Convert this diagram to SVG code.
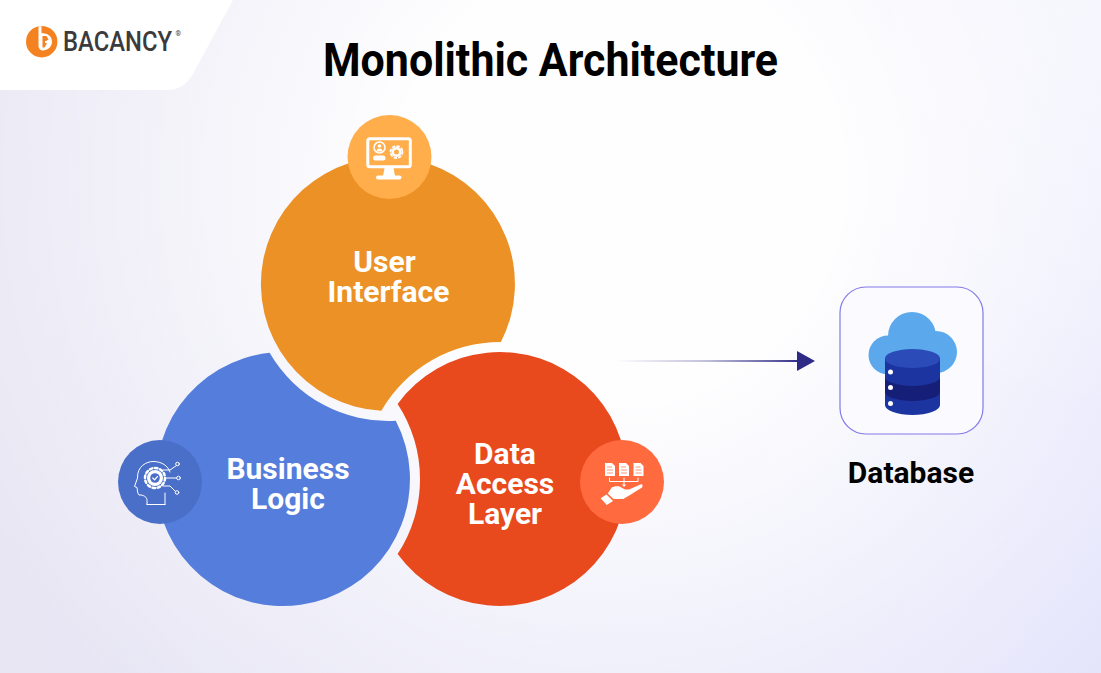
<svg xmlns="http://www.w3.org/2000/svg" width="1101" height="673" viewBox="0 0 1101 673">
<style>
.t{font-family:Roboto,"Liberation Sans",sans-serif;font-weight:700;text-anchor:middle}
.l{font-size:30px;fill:#fff}
.ic{fill:none;stroke:#fff;stroke-linecap:round;stroke-linejoin:round}
.wf{fill:#fff}
</style>
<defs>
<linearGradient id="bg" x1="0" y1="0" x2="1101" y2="0" gradientUnits="userSpaceOnUse"><stop offset="0" stop-color="#e8e6f3"/><stop offset="1" stop-color="#e2e3fb"/></linearGradient>
<radialGradient id="glow" cx="620" cy="180" r="720" gradientUnits="userSpaceOnUse"><stop offset="0.3" stop-color="#fff" stop-opacity="0.97"/><stop offset="1" stop-color="#fff" stop-opacity="0"/></radialGradient>
<radialGradient id="glow2" cx="1101" cy="0" r="420" gradientUnits="userSpaceOnUse"><stop offset="0" stop-color="#fff" stop-opacity="0.5"/><stop offset="1" stop-color="#fff" stop-opacity="0"/></radialGradient>
<linearGradient id="arrow" x1="615" y1="0" x2="800" y2="0" gradientUnits="userSpaceOnUse"><stop offset="0" stop-color="#2e2a85" stop-opacity="0"/><stop offset="0.5" stop-color="#2e2a85" stop-opacity="0.3"/><stop offset="0.85" stop-color="#2e2a85" stop-opacity="0.75"/><stop offset="1" stop-color="#2e2a85"/></linearGradient>
</defs>
<rect width="1101" height="673" fill="url(#bg)"/>
<rect width="1101" height="673" fill="url(#glow)"/>
<rect width="1101" height="673" fill="url(#glow2)"/>
<g id="logo">
<path d="M0 0H233L193 74Q184 90 167 90H0Z" fill="#fff"/>
<circle cx="41.700" cy="41.700" r="15.700" fill="#f58220"/>
<path d="M38.500 26.200H41.500V33C47.500 33 52 36.500 52 41.500C52 47 47.500 50.500 43 50.500C40.500 50.500 38.500 48.500 38.500 46Z" class="wf"/>
<path d="M42.500 36H46.500L48.500 39.500L46 41H45V43H47L44.500 47.500H42.500Z" fill="#f58220"/>
<text x="63" y="51" font-family="Roboto,'Liberation Sans',sans-serif" font-weight="500" font-size="27" fill="#3b3b3d" textLength="109" lengthAdjust="spacingAndGlyphs">BACANCY</text>
<text x="175.500" y="36" font-family="Roboto,'Liberation Sans',sans-serif" font-weight="500" font-size="7" fill="#3b3b3d">®</text>
</g>
<text id="title" class="t" x="550.500" y="76" font-size="46" fill="#000" textLength="455" lengthAdjust="spacingAndGlyphs">Monolithic Architecture</text>
<g id="user-interface">
<path d="M500.900 342A127 127 0 1 0 381.300 410.800A137 137 0 0 1 500.900 342Z" fill="#ec9125"/>
<circle cx="389.500" cy="157" r="42" fill="#ffae4b"/>
<rect x="367.800" y="138.800" width="42.500" height="28" rx="2" class="ic" stroke-width="3"/>
<path d="M384.500 168L383 176H395L393.500 168Z" class="wf"/>
<rect x="376" y="175.500" width="25.500" height="4" rx="2" class="wf"/>
<circle cx="379.500" cy="147.500" r="5.500" class="ic" stroke-width="1.500"/>
<circle cx="379.500" cy="146" r="1.800" class="wf"/>
<path d="M376.500 151.500A3 3 0 0 1 382.500 151.500Z" class="wf"/>
<rect x="373" y="155.500" width="12.500" height="5" rx="2.500" class="wf"/>
<circle cx="396.500" cy="152" r="3.800" class="ic" stroke-width="2.600"/>
<circle cx="396.500" cy="152" r="6" class="ic" stroke-width="1.800" stroke-dasharray="2 2.700"/>
<text class="t l" x="384.500" y="272">User</text>
<text class="t l" x="388.500" y="302">Interface</text>
</g>
<g id="business-logic">
<path d="M269.600 352.800A127 127 0 1 0 395.800 420.800A137 137 0 0 1 269.600 352.800Z" fill="#557ddb"/>
<circle cx="160" cy="482" r="42" fill="#4a6fc9"/>
<path d="M147 504.500V500.500C147 497 144 495.500 141 495L139 495C137 493 137.500 489 137 487.500L134.500 486.500L137.500 478C137 466 147 461.500 153 461.500C162 461.500 168 466 170 472M165 504.500V493" class="ic" stroke-width="1"/>
<path d="M147 504.500H165" class="ic" stroke-width="1"/>
<circle cx="155" cy="478" r="8" class="wf"/>
<circle cx="155" cy="478" r="10" class="ic" stroke-width="2.500" stroke-dasharray="2.500 2.700"/>
<circle cx="155" cy="478" r="4.800" fill="#4a6fc9"/>
<path d="M152.800 478L154.500 479.800L157.500 476.500" class="ic" stroke-width="1.200"/>
<path d="M165 478H176.500M163 470H170L176.500 465.500M163 486H170L175.500 491.500" class="ic" stroke-width="1"/>
<circle cx="177.500" cy="464" r="1.800" class="ic" stroke-width="1"/>
<circle cx="178.500" cy="478" r="1.800" class="ic" stroke-width="1"/>
<circle cx="177" cy="492.500" r="1.800" class="ic" stroke-width="1"/>
<text class="t l" x="288" y="479">Business</text>
<text class="t l" x="288" y="509">Logic</text>
</g>
<g id="data-access-layer">
<path d="M397.600 403.900A127 127 0 1 1 397.600 554.100A137 137 0 0 0 397.600 403.900Z" fill="#e8491d"/>
<circle cx="622" cy="482" r="42" fill="#ff6b3f"/>
<path d="M605 463H612L615 466V476H605ZM619 463H626L629 466V476H619ZM633.500 463H640.500L643.500 466V476H633.500Z" class="wf"/>
<path d="M607 467H612M607 470H613M607 473H613M621 467H626M621 470H627M621 473H627M635.500 467H640.500M635.500 470H641.500M635.500 473H641.500" stroke="#ff6b3f" stroke-width=".7" fill="none"/>
<path d="M609.500 478V481.500H638V478M624 478V484" class="ic" stroke-width="1"/>
<path d="M621.800 484.500H626.200L624 487Z" class="wf"/>
<path d="M600.700 498.300L606.500 494.500L613 501L606.700 505Z" class="wf"/>
<path d="M607.800 493.500L611.700 487.500C615 486 618 486 620 486.700L625 489.500L629 489.500L641 484.300C642.800 484 643 486.500 642 487.500L630 495L623.300 499H613.500Z" class="wf"/>
<text class="t l" x="505" y="464">Data</text>
<text class="t l" x="505" y="494">Access</text>
<text class="t l" x="505" y="524">Layer</text>
</g>
<g id="connectors">
<rect x="615" y="360" width="185" height="2" fill="url(#arrow)"/>
<path d="M797 351L815 361L797 371Z" fill="#2e2a85"/>
</g>
<g id="database">
<rect x="840" y="287" width="143" height="147" rx="26" fill="#fbfbff" stroke="#8379e8" stroke-width="1.200"/>
<g fill="#5ba9ec">
<circle cx="912" cy="336" r="24"/><circle cx="888" cy="355" r="19.500"/><circle cx="936" cy="352" r="21"/>
<rect x="888" y="345" width="48" height="27"/>
</g>
<path d="M885 358V405A27.500 10 0 0 0 940 405V358Z" fill="#1c349f"/>
<path d="M885 377A27.500 9 0 0 0 940 377V392A27.500 9 0 0 1 885 392Z" fill="#151f78"/>
<ellipse cx="912.500" cy="358.500" rx="27.500" ry="9.500" fill="#2b4bb8"/>
<circle cx="890.500" cy="372" r="2.500" class="wf"/><circle cx="890.500" cy="387.500" r="2.500" class="wf"/><circle cx="890.500" cy="403.500" r="2.500" class="wf"/>
<text class="t" x="911" y="483" font-size="30" fill="#000">Database</text>
</g>
</svg>
